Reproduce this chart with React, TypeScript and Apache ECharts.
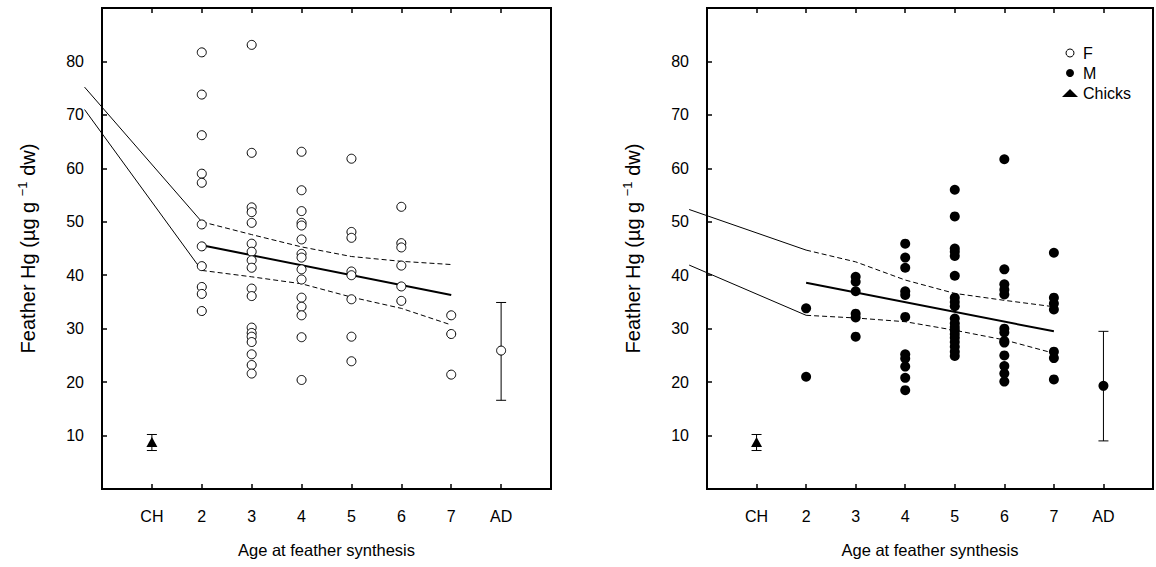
import React, { useEffect, useRef } from "react";
import * as echarts from "echarts";

const FONT = "'Liberation Sans', Arial, Helvetica, sans-serif";

// x positions: 1 = CH (chicks), 2..7 = age, 8 = AD (adults)
const xTickLabels = ["", "CH", "2", "3", "4", "5", "6", "7", "AD", ""];
const ages = [2, 3, 4, 5, 6, 7];

// Females (left panel)
const fAge2 = [81.7, 73.8, 66.2, 59.0, 57.3, 49.5, 45.4, 41.7, 37.8, 36.5, 33.3];
const fAge3 = [83.1, 62.9, 52.7, 51.8, 49.8, 45.9, 44.4, 42.8, 41.4, 37.5, 36.1, 30.2, 29.2, 28.5, 27.5, 25.2, 23.2, 21.6];
const fAge4 = [63.1, 55.9, 52.0, 49.8, 49.3, 46.7, 44.0, 43.3, 41.1, 39.2, 35.8, 34.1, 32.5, 28.4, 20.4];
const fAge5 = [61.8, 48.1, 47.0, 40.7, 40.0, 35.5, 28.5, 23.9];
const fAge6 = [52.8, 46.0, 45.2, 41.8, 37.9, 35.2];
const fAge7 = [32.5, 29.0, 21.4];
const femaleByAge = [fAge2, fAge3, fAge4, fAge5, fAge6, fAge7];

// Males (right panel)
const mAge2 = [33.8, 21.0];
const mAge3 = [39.7, 38.8, 37.0, 32.8, 32.1, 28.5];
const mAge4 = [45.9, 43.3, 41.4, 37.0, 36.3, 32.2, 25.2, 24.4, 22.9, 20.8, 18.5];
const mAge5 = [56.0, 51.0, 45.0, 44.4, 43.6, 39.9, 35.8, 35.0, 34.2, 31.9, 31.0, 30.3, 29.7, 29.0, 28.3, 27.5, 26.6, 25.7, 24.9];
const mAge6 = [61.7, 41.1, 38.3, 37.3, 36.4, 30.0, 29.3, 27.7, 27.4, 25.0, 23.0, 21.6, 20.1];
const mAge7 = [44.2, 35.8, 34.7, 33.6, 25.7, 24.5, 20.5];
const maleByAge = [mAge2, mAge3, mAge4, mAge5, mAge6, mAge7];

// Adults (mean, low, high) and chicks (mean, low, high)
const adultF = [25.9, 16.6, 34.9];
const adultM = [19.3, 9.0, 29.5];
const chicks = [8.8, 7.2, 10.2];
const chickX = 1;
const adultX = 8;

// Regression and confidence lines
const fFit = [[2, 45.6], [7, 36.3]];
const fUpperThin = [-0.35, 75.2, 2, 50.0];
const fUpperDash = [[2, 50.0], [3, 47.6], [4, 45.3], [5, 43.5], [6, 42.6], [7, 42.0]];
const fLowerThin = [-0.35, 71.0, 2, 40.9];
const fLowerDash = [[2, 40.9], [3, 39.7], [4, 38.4], [5, 35.9], [6, 33.8], [7, 30.7]];

const mFit = [[2, 38.6], [7, 29.5]];
const mUpperThin = [-0.36, 52.3, 2, 44.7];
const mUpperDash = [[2, 44.7], [3, 42.5], [4, 39.1], [5, 36.6], [6, 35.3], [7, 34.1]];
const mLowerThin = [-0.36, 41.9, 2, 32.5];
const mLowerDash = [[2, 32.5], [3, 32.0], [4, 31.3], [5, 29.7], [6, 27.9], [7, 25.4]];

function pairs(byAge: number[][]) {
  const out: number[][] = [];
  byAge.forEach((vals, i) => vals.forEach((v) => out.push([ages[i], v])));
  return out;
}

function errorBar(name: string, gi: number, x: number, stat: number[]) {
  return {
    type: "custom",
    name,
    xAxisIndex: gi * 2,
    yAxisIndex: gi,
    silent: true,
    clip: false,
    z: 2,
    data: [[x, stat[1], stat[2]]],
    renderItem: (params: any, api: any) => {
      const xv = api.value(0);
      const top = api.coord([xv, api.value(2)]);
      const bot = api.coord([xv, api.value(1)]);
      const cap = 5;
      const style = { stroke: "#000", lineWidth: 1 };
      return {
        type: "group",
        children: [
          { type: "line", shape: { x1: top[0], y1: top[1], x2: bot[0], y2: bot[1] }, style },
          { type: "line", shape: { x1: top[0] - cap, y1: top[1], x2: top[0] + cap, y2: top[1] }, style },
          { type: "line", shape: { x1: bot[0] - cap, y1: bot[1], x2: bot[0] + cap, y2: bot[1] }, style },
        ],
      };
    },
  };
}

// segments that reach outside the plotting frame (drawn via custom series, unclipped)
function segmentSeries(name: string, gi: number, segs: number[][]) {
  return {
    type: "custom",
    name,
    xAxisIndex: gi * 2,
    yAxisIndex: gi,
    silent: true,
    clip: false,
    z: 3,
    data: segs,
    renderItem: (params: any, api: any) => {
      const a = api.coord([api.value(0), api.value(1)]);
      const b = api.coord([api.value(2), api.value(3)]);
      return {
        type: "line",
        shape: { x1: a[0], y1: a[1], x2: b[0], y2: b[1] },
        style: { stroke: "#000", lineWidth: 1 },
      };
    },
  };
}

function lineSeries(name: string, gi: number, data: number[][], width: number, dashed: boolean) {
  return {
    type: "line",
    name,
    xAxisIndex: gi * 2,
    yAxisIndex: gi,
    data,
    symbol: "none",
    clip: false,
    silent: true,
    z: 3,
    lineStyle: { color: "#000", width, type: dashed ? [5, 3] : "solid" },
  };
}

const openStyle = { color: "#fff", borderColor: "#000", borderWidth: 1, opacity: 1 };
const fillStyle = { color: "#000", opacity: 1 };

export default function App() {
  const ref = useRef<HTMLDivElement>(null);
  useEffect(() => {
    const chart = echarts.init(ref.current as HTMLDivElement, null, { renderer: "svg" });
    const grids = [
      { left: 102, top: 8, width: 449, height: 481 },
      { left: 707, top: 8, width: 448, height: 481 },
    ];
    const xAxes: any[] = [];
    const yAxes: any[] = [];
    grids.forEach((_, gi) => {
      xAxes.push({
        type: "value",
        gridIndex: gi,
        min: 0,
        max: 9,
        interval: 1,
        position: "bottom",
        axisLine: { show: false },
        axisTick: { inside: true, length: 5, lineStyle: { color: "#000", width: 1.5 } },
        splitLine: { show: false },
        axisLabel: {
          formatter: (v: number) => xTickLabels[v] ?? "",
          margin: 19,
          fontSize: 16,
          color: "#000",
          fontFamily: FONT,
        },
        name: "Age at feather synthesis",
        nameLocation: "middle",
        nameGap: 52,
        nameTextStyle: { fontSize: 16.5, color: "#000", fontFamily: FONT },
      });
      xAxes.push({
        type: "value",
        gridIndex: gi,
        min: 0,
        max: 9,
        interval: 1,
        position: "top",
        axisLine: { show: false },
        axisTick: { inside: true, length: 5, lineStyle: { color: "#000", width: 1.5 } },
        splitLine: { show: false },
        axisLabel: { show: false },
      });
      yAxes.push({
        type: "value",
        gridIndex: gi,
        min: 0,
        max: 90,
        interval: 10,
        axisLine: { show: false },
        axisTick: { inside: true, length: 5, lineStyle: { color: "#000", width: 1.5 } },
        splitLine: { show: false },
        axisLabel: {
          formatter: (v: number) => (v === 0 || v === 90 ? "" : String(v)),
          margin: 18,
          fontSize: 16,
          color: "#000",
          fontFamily: FONT,
        },
        name: "{a|Feather Hg (µg g }{s|−1}{a| dw)}",
        nameLocation: "middle",
        nameGap: 62,
        nameTextStyle: {
          fontSize: 20,
          color: "#000",
          fontFamily: FONT,
          rich: {
            a: { fontSize: 20, color: "#000", fontFamily: FONT },
            s: { fontSize: 13, color: "#000", fontFamily: FONT, padding: [0, 0, 11, 0] },
          },
        },
      });
    });

    const option: any = {
      animation: false,
      backgroundColor: "#fff",
      grid: grids.map((g) => ({ ...g, show: true, borderColor: "#000", borderWidth: 2, backgroundColor: "transparent" })),
      xAxis: xAxes,
      yAxis: yAxes,
      legend: {
        data: [
          { name: "F", icon: "circle", itemStyle: { color: "#fff", borderColor: "#000", borderWidth: 1 } },
          { name: "M", icon: "circle", itemStyle: { color: "#000" } },
          { name: "Chicks", icon: "triangle", itemStyle: { color: "#000" } },
        ],
        orient: "vertical",
        left: 1057,
        top: 40,
        itemWidth: 16,
        itemHeight: 8,
        itemGap: 4,
        selectedMode: false,
        textStyle: { fontSize: 16, color: "#000", fontFamily: FONT },
      },
      series: [
        // left panel
        segmentSeries("fThin", 0, [fUpperThin, fLowerThin]),
        lineSeries("fUpperDash", 0, fUpperDash, 1, true),
        lineSeries("fLowerDash", 0, fLowerDash, 1, true),
        lineSeries("fFit", 0, fFit, 2, false),
        errorBar("errAdF", 0, adultX, adultF),
        errorBar("errChickL", 0, chickX, chicks),
        {
          type: "scatter", name: "F", xAxisIndex: 0, yAxisIndex: 0, z: 5,
          symbol: "circle", symbolSize: 9, itemStyle: openStyle,
          data: [...pairs(femaleByAge), [adultX, adultF[0]]],
        },
        {
          type: "scatter", name: "Chicks", xAxisIndex: 0, yAxisIndex: 0, z: 5,
          symbol: "triangle", symbolSize: [11, 10], itemStyle: fillStyle,
          data: [[chickX, chicks[0]]],
        },
        // right panel
        segmentSeries("mThin", 1, [mUpperThin, mLowerThin]),
        lineSeries("mUpperDash", 1, mUpperDash, 1, true),
        lineSeries("mLowerDash", 1, mLowerDash, 1, true),
        lineSeries("mFit", 1, mFit, 2, false),
        errorBar("errAdM", 1, adultX, adultM),
        errorBar("errChickR", 1, chickX, chicks),
        {
          type: "scatter", name: "M", xAxisIndex: 2, yAxisIndex: 1, z: 5,
          symbol: "circle", symbolSize: 10, itemStyle: fillStyle,
          data: [...pairs(maleByAge), [adultX, adultM[0]]],
        },
        {
          type: "scatter", name: "Chicks", xAxisIndex: 2, yAxisIndex: 1, z: 5,
          symbol: "triangle", symbolSize: [11, 10], itemStyle: fillStyle,
          data: [[chickX, chicks[0]]],
        },
      ],
    };
    chart.setOption(option);
    return () => chart.dispose();
  }, []);
  return (
    <div
      ref={ref}
      style={{ position: "fixed", left: 0, top: 0, width: 1156, height: 567, background: "#fff" }}
    />
  );
}
